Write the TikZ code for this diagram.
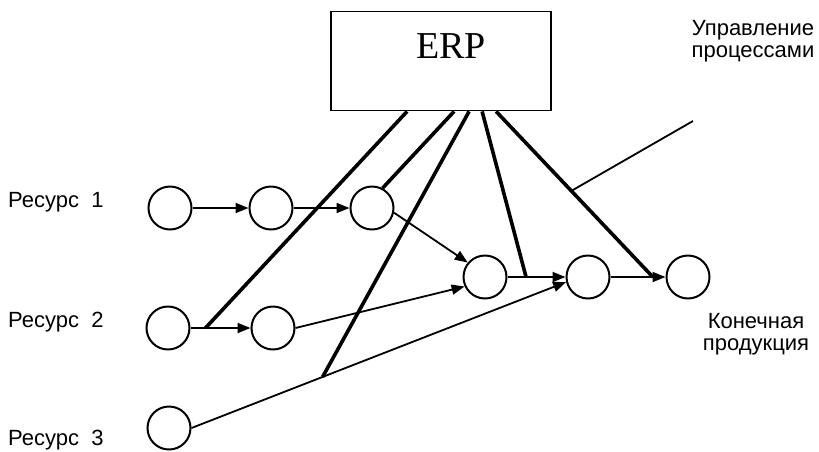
\documentclass[tikz,border=0pt]{standalone}
\usepackage{fontspec}
\setmainfont{Liberation Serif}
\newfontfamily\lsans{Liberation Sans}
\usetikzlibrary{arrows.meta,calc}
\begin{document}
\begin{tikzpicture}[x=1pt,y=-1pt,
  res/.style={circle,draw,line width=2pt,minimum size=43pt,inner sep=0pt},
  flow/.style={line width=1.8pt,-{Triangle[length=13pt,width=10pt]}},
  ctl/.style={line width=3.6pt},
  thin/.style={line width=1.8pt},
  lbl/.style={font=\lsans\fontsize{22}{24}\selectfont,inner sep=0pt}]
\useasboundingbox (0,0) rectangle (819,451);
% ERP box
\node[draw,line width=1.8pt,minimum width=220pt,minimum height=99pt,inner sep=0pt] (erp) at (441,61) {};
\node[font=\fontsize{38}{40}\selectfont,anchor=base,inner sep=0pt] (erpl) at (451,58) {ERP};
% circles
\node[res] (c1) at (170,208) {};
\node[res] (c2) at (271,208) {};
\node[res] (c3) at (372,208) {};
\node[res] (c4) at (485,277) {};
\node[res] (c5) at (588,277) {};
\node[res] (c6) at (688,277) {};
\node[res] (c7) at (168,328) {};
\node[res] (c8) at (273,328) {};
\node[res] (c9) at (169,428) {};
% flows
\draw[flow] (c1) -- (c2);
\draw[flow] (c2) -- (c3);
\draw[flow] (c3.-12) -- (c4.140);
\draw[flow] (c7) -- (c8);
\draw[flow] (c8.east) -- (c4.205);
\draw[flow] (c9.east) -- (c5.193);
\draw[flow] (c4) -- (c5);
\draw[flow] (c5) -- (c6);
% joints
\coordinate (ja) at ($(c7.east)!0.25!(c8.west)$);
\coordinate (jc) at ($(c9.east)!0.35!(c5.193)$);
\coordinate (jd) at ($(c4.east)!0.32!(c5.west)$);
\coordinate (je) at ($(c5.east)!0.77!(c6.west)$);
\coordinate (ea) at ([xshift=77pt]erp.south west);
\coordinate (eb) at ([xshift=124pt]erp.south west);
\coordinate (ec) at ([xshift=139pt]erp.south west);
\coordinate (ed) at ([xshift=152pt]erp.south west);
\coordinate (ee) at ([xshift=166pt]erp.south west);
% control lines
\draw[ctl] (ea) -- (ja);
\draw[ctl] (eb) -- (c3.62);
\draw[ctl] (ec) -- (jc);
\draw[ctl] (ed) -- (jd);
\draw[ctl] (ee) -- (je);
\coordinate (jm) at ($(ee)!0.48!(je)$);
\coordinate (mend) at (693,121);
\draw[thin] (jm) -- (mend);
% labels
\node[lbl,anchor=base west] (r1) at (8,207) {Ресурс\ \ 1};
\node[lbl,anchor=base west] (r2) at (8,327) {Ресурс\ \ 2};
\node[lbl,anchor=base west] (r3) at (8,445) {Ресурс\ \ 3};
\node[lbl,anchor=base] (up1) at (753,35) {Управление};
\node[lbl,anchor=base] (up2) at (753,57) {процессами};
\node[lbl,anchor=base] (kp1) at (756,328) {Конечная};
\node[lbl,anchor=base] (kp2) at (756,350) {продукция};
\end{tikzpicture}
\end{document}
